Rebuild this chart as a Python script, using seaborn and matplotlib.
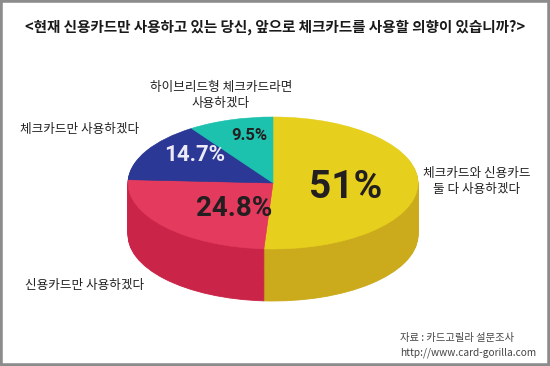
import seaborn as sns
import matplotlib.pyplot as plt
from matplotlib.patches import Rectangle

# survey answers (%)
answers = ["체크카드와 신용카드\n둘 다 사용하겠다", "신용카드만 사용하겠다",
           "체크카드만 사용하겠다", "하이브리드형 체크카드라면\n사용하겠다"]
shares = [51.0, 24.8, 14.7, 9.5]
top_colors = ["#E6D01D", "#E33A5D", "#2C3896", "#1DC2AE"]
side_colors = ["#CBAB1B", "#CA2548", "#222B78", "#139A8A"]

sns.set_theme(style="white")
plt.rcParams['font.family'] = ['Noto Sans CJK KR', 'DejaVu Sans']

W, H = 550, 366
fig = plt.figure(figsize=(5.5, 3.66), dpi=100)
fig.patch.set_facecolor("white")

def px(x, y):
    return x / W, 1 - y / H

# pie geometry in pixels
cx, cy, a, b, depth = 273, 183, 145, 66, 52
xlo, xhi, ylo, yhi = -1.1, 1.1, -1.9, 1.2
left = cx + xlo * a
ax = fig.add_axes([left / W, 1 - (cy - ylo * b) / H, (xhi - xlo) * a / W, (yhi - ylo) * b / H])

# extruded side: stacked darker pies
n = 60
d = depth / b
for i in range(n, 0, -1):
    off = -d * i / n
    ws, _ = ax.pie(shares, colors=side_colors, startangle=90, counterclock=False,
                   center=(0, off), wedgeprops=dict(linewidth=0))
    for w in ws:
        w.set_edgecolor(w.get_facecolor())
        w.set_linewidth(0.6)

ws, _ = ax.pie(shares, colors=top_colors, startangle=90, counterclock=False,
               wedgeprops=dict(linewidth=0))
for w in ws:
    w.set_edgecolor(w.get_facecolor())
    w.set_linewidth(0.4)

ax.set_aspect('auto')
ax.set_xlim(xlo, xhi)
ax.set_ylim(ylo, yhi)
ax.axis('off')

# percent labels
num_font = ['Roboto', 'DejaVu Sans']
pct_pos = [(346, 187), (234, 208), (195, 155), (249, 135)]
pct_size = [28, 20, 16, 12]
pct_color = ["#231f20", "#231f20", "#ECEAF6", "#231f20"]
for v, (x, y), s, c in zip(shares, pct_pos, pct_size, pct_color):
    fig.text(*px(x, y), f"{v:g}%", ha="center", va="center", fontsize=s,
             fontweight="bold", color=c, family=num_font)

# answer labels
lab_pos = [(477, 181, "center"), (25, 285, "left"), (20, 129, "left"), (221, 95, "center")]
for t, (x, y, ha) in zip(answers, lab_pos):
    fig.text(*px(x, y), t, ha=ha, va="center", fontsize=9.1, color="#222222",
             multialignment="center", linespacing=1.3)

fig.text(*px(275, 27), "<현재 신용카드만 사용하고 있는 당신, 앞으로 체크카드를 사용할 의향이 있습니까?>",
         ha="center", va="center", fontsize=10.5, fontweight="bold", color="#1a1a1a")

fig.text(*px(400, 338), "자료 : 카드고릴라 설문조사", ha="left", va="center",
         fontsize=7.4, color="#444444")
fig.text(*px(400, 353), "http://www.card-gorilla.com", ha="left", va="center",
         fontsize=7.3, color="#444444")

fig.patches.append(Rectangle((0, 0), 1, 1, transform=fig.transFigure, fill=False,
                             edgecolor="#8c8c8c", linewidth=4))

plt.savefig("out.png", dpi=100)
